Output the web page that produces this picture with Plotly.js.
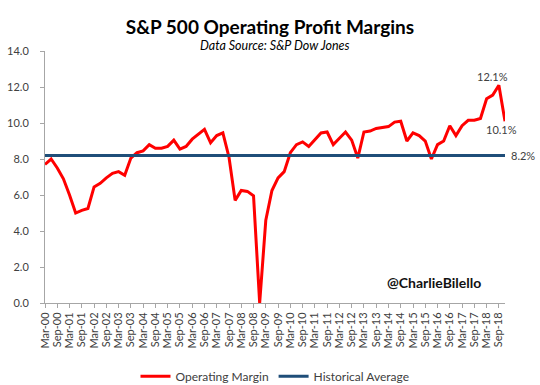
<!DOCTYPE html>
<html>
<head>
<meta charset="utf-8">
<script src="https://cdn.plot.ly/plotly-3.0.1.min.js"></script>
<style>html,body{margin:0;padding:0;background:#fff;}#chart{width:540px;height:385px;}</style>
</head>
<body>
<div id="chart"></div>
<script>
var quarters = [
  "Mar-00","Jun-00","Sep-00","Dec-00","Mar-01","Jun-01","Sep-01","Dec-01",
  "Mar-02","Jun-02","Sep-02","Dec-02","Mar-03","Jun-03","Sep-03","Dec-03",
  "Mar-04","Jun-04","Sep-04","Dec-04","Mar-05","Jun-05","Sep-05","Dec-05",
  "Mar-06","Jun-06","Sep-06","Dec-06","Mar-07","Jun-07","Sep-07","Dec-07",
  "Mar-08","Jun-08","Sep-08","Dec-08","Mar-09","Jun-09","Sep-09","Dec-09",
  "Mar-10","Jun-10","Sep-10","Dec-10","Mar-11","Jun-11","Sep-11","Dec-11",
  "Mar-12","Jun-12","Sep-12","Dec-12","Mar-13","Jun-13","Sep-13","Dec-13",
  "Mar-14","Jun-14","Sep-14","Dec-14","Mar-15","Jun-15","Sep-15","Dec-15",
  "Mar-16","Jun-16","Sep-16","Dec-16","Mar-17","Jun-17","Sep-17","Dec-17",
  "Mar-18","Jun-18","Sep-18","Dec-18"
];
var operatingMargin = [
  7.7, 8.0, 7.5, 6.9, 6.0, 5.0, 5.15, 5.25,
  6.45, 6.65, 6.95, 7.2, 7.3, 7.1, 8.05, 8.35,
  8.45, 8.8, 8.6, 8.6, 8.7, 9.05, 8.55, 8.7,
  9.1, 9.4, 9.65, 8.9, 9.3, 9.45, 8.1, 5.7,
  6.25, 6.2, 5.95, 0.0, 4.6, 6.25, 6.95, 7.3,
  8.35, 8.8, 8.95, 8.7, 9.05, 9.45, 9.5, 8.8,
  9.15, 9.5, 9.05, 8.05, 9.5, 9.55, 9.7, 9.75,
  9.8, 10.05, 10.1, 9.0, 9.45, 9.3, 9.0, 8.0,
  8.8, 9.0, 9.85, 9.3, 9.85, 10.15, 10.15, 10.25,
  11.35, 11.55, 12.1, 10.1
];
var historicalAverage = [];
var AVG = 8.2;
for (var k = 0; k < quarters.length; k++) historicalAverage.push(AVG);

var tickLabels = quarters.filter(function (q, i) { return i % 2 === 0; });
var yTicks = [0, 2, 4, 6, 8, 10, 12, 14];

var FONT = "Lato, 'Open Sans', sans-serif";
var RED = "#FF0000";
var BLUE = "#1F4E79";
var n = quarters.length;

var traces = [
  {x: quarters, y: operatingMargin, type: "scatter", mode: "lines", name: "Operating Margin",
   line: {color: RED, width: 3}, cliponaxis: false},
  {x: quarters, y: historicalAverage, type: "scatter", mode: "lines", name: "Historical Average",
   line: {color: BLUE, width: 3}, cliponaxis: false}
];

var layout = {
  width: 540, height: 385,
  margin: {l: 45, r: 35, t: 51, b: 82},
  paper_bgcolor: "#fff", plot_bgcolor: "#fff",
  font: {family: FONT, color: "#404040"},
  title: {text: "<b>S&P 500 Operating Profit Margins</b>", x: 0.5, xanchor: "center",
          yref: "container", y: 0.93, yanchor: "middle", automargin: false,
          font: {family: FONT, size: 19, color: "#000"}},
  showlegend: true,
  legend: {orientation: "h", x: 0.5, xanchor: "center", yref: "container", y: 0.023, yanchor: "middle",
           font: {family: FONT, size: 12, color: "#404040"}, itemwidth: 30, traceorder: "normal"},
  xaxis: {type: "category", range: [0, n - 1], autorange: false, automargin: false,
          tickmode: "array", tickvals: tickLabels, ticktext: tickLabels, tickangle: -90,
          ticks: "outside", ticklen: 4, tickcolor: "#A6A6A6", showline: true, linecolor: "#A6A6A6",
          linewidth: 1, showgrid: false, zeroline: false,
          tickfont: {family: FONT, size: 11, color: "#404040"}},
  yaxis: {range: [0, 14], autorange: false, automargin: false, tickvals: yTicks, tickformat: ".1f", ticksuffix: "%",
          ticks: "outside", ticklen: 4, tickcolor: "#A6A6A6", showline: true, linecolor: "#A6A6A6",
          linewidth: 1, showgrid: false, zeroline: false, ticklabelstandoff: 9,
          tickfont: {family: FONT, size: 11, color: "#404040"}},
  annotations: [
    {xref: "paper", yref: "paper", x: 0.5, y: 1.02, xanchor: "center", yanchor: "middle",
     text: "<i>Data Source: S&P Dow Jones</i>", showarrow: false,
     font: {family: FONT, size: 12.5, color: "#000"}},
    {x: quarters[n - 2], y: operatingMargin[n - 2], text: operatingMargin[n - 2].toFixed(1) + "%",
     showarrow: false, xanchor: "center", yanchor: "bottom", yshift: 0, xshift: -6,
     font: {family: FONT, size: 11, color: "#404040"}},
    {x: quarters[n - 1], y: operatingMargin[n - 1], text: operatingMargin[n - 1].toFixed(1) + "%",
     showarrow: false, xanchor: "center", yanchor: "top", yshift: 0, xshift: -4,
     font: {family: FONT, size: 11, color: "#404040"}},
    {x: quarters[n - 1], y: historicalAverage[n - 1], text: historicalAverage[n - 1].toFixed(1) + "%",
     showarrow: false, xanchor: "left", yanchor: "middle", xshift: 4,
     font: {family: FONT, size: 11, color: "#404040"}},
    {xref: "paper", yref: "paper", x: 0.952, y: 0.08, xanchor: "right", yanchor: "middle",
     text: "<b>@CharlieBilello</b>", showarrow: false,
     font: {family: FONT, size: 14, color: "#111"}}
  ]
};

Plotly.newPlot("chart", traces, layout, {displayModeBar: false, staticPlot: true});
</script>
</body>
</html>
